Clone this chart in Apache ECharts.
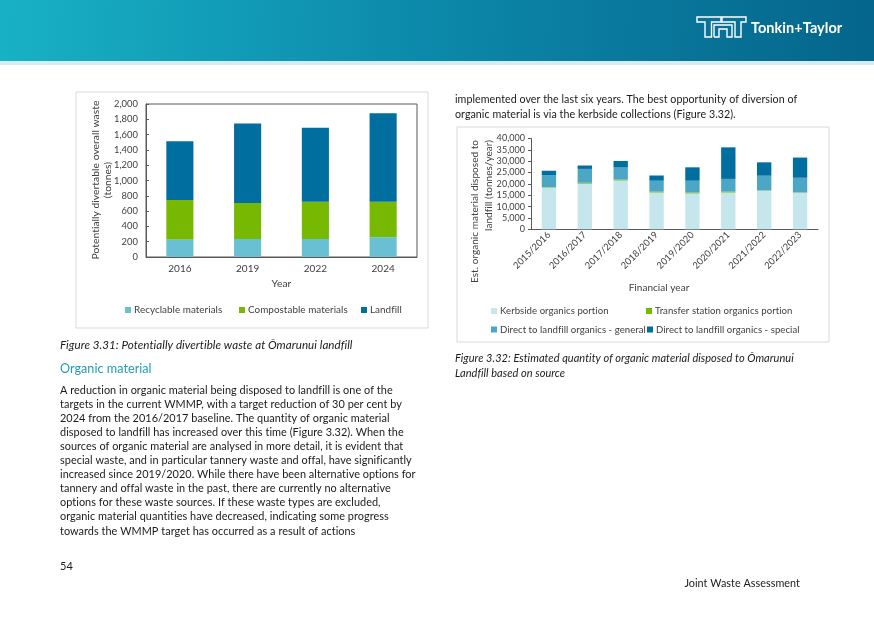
<!DOCTYPE html>
<html>
<head>
<meta charset="utf-8">
<script src="https://cdn.jsdelivr.net/npm/echarts@6/dist/echarts.min.js"></script>
<style>
html,body{margin:0;padding:0;background:#fff;}
#c{width:874px;height:618px;}
</style>
</head>
<body>
<div id="c"></div>
<script>
// ---------- Data: Figure 3.31 ----------
const years1 = ['2016', '2019', '2022', '2024'];
const recyclable = [230, 235, 235, 260];
const compostable = [515, 470, 488, 463];
const landfill = [767, 1040, 967, 1155];

// ---------- Data: Figure 3.32 ----------
const years2 = ['2015/2016', '2016/2017', '2017/2018', '2018/2019', '2019/2020', '2020/2021', '2021/2022', '2022/2023'];
const kerbside = [18400, 20100, 21500, 16200, 15800, 16200, 17000, 16100];
const transferStation = [200, 400, 400, 400, 400, 400, 150, 150];
const directGeneral = [5300, 6100, 5300, 4800, 5200, 5600, 6450, 6450];
const directSpecial = [1900, 1500, 2900, 2300, 5900, 13900, 5900, 8900];

// ---------- Text ----------
const bodyLines = [
  'A reduction in organic material being disposed to landfill is one of the',
  'targets in the current WMMP, with a target reduction of 30 per cent by',
  '2024 from the 2016/2017 baseline. The quantity of organic material',
  'disposed to landfill has increased over this time (Figure 3.32). When the',
  'sources of organic material are analysed in more detail, it is evident that',
  'special waste, and in particular tannery waste and offal, have significantly',
  'increased since 2019/2020. While there have been alternative options for',
  'tannery and offal waste in the past, there are currently no alternative',
  'options for these waste sources. If these waste types are excluded,',
  'organic material quantities have decreased, indicating some progress',
  'towards the WMMP target has occurred as a result of actions'
];
const rightTopLines = [
  'implemented over the last six years. The best opportunity of diversion of',
  'organic material is via the kerbside collections (Figure 3.32).'
];
const cap2Lines = [
  'Figure 3.32: Estimated quantity of organic material disposed to \u014Cmarunui',
  'Landfill based on source'
];

// avoid Lato's discretionary "ti" style ligatures (tiny letter spacing disables them)
(function () {
  const P = CanvasRenderingContext2D.prototype;
  const of = P.fillText;
  P.fillText = function () {
    if ('letterSpacing' in this) { this.letterSpacing = '0.04px'; }
    return of.apply(this, arguments);
  };
})();

const FF = 'Lato, "Open Sans", sans-serif';
const AX = '#404040';
const LINE = '#595959';

function txt(x, y, s, o) {
  o = o || {};
  return {
    type: 'text', x: x, y: y, rotation: o.rot || 0, silent: true,
    style: {
      text: s, fill: o.fill || '#1a1a1a',
      font: (o.italic ? 'italic ' : '') + (o.bold ? 'bold ' : '') + (o.size || 11) + 'px ' + FF,
      align: o.align || 'left', verticalAlign: 'middle'
    }
  };
}

const graphics = [];
// header band
graphics.push({
  type: 'rect', shape: {x: 0, y: 0, width: 874, height: 61}, silent: true,
  style: {fill: {type: 'linear', x: 0, y: 0, x2: 1, y2: 0.4, colorStops: [
    {offset: 0, color: '#18B1C5'}, {offset: 0.5, color: '#0C88A9'}, {offset: 1, color: '#05658C'}]}}
});
graphics.push({type: 'rect', shape: {x: 0, y: 61, width: 874, height: 4}, silent: true, style: {fill: '#D6ECF1'}});
// logo mark
const logoStroke = {stroke: '#fff', lineWidth: 1.4, fill: 'none'};
graphics.push({type: 'polygon', silent: true, shape: {points: [[697,17],[721,17],[721,22],[711.5,22],[711.5,37],[705,37],[705,22],[697,22]]}, style: logoStroke});
graphics.push({type: 'polygon', silent: true, shape: {points: [[722,17],[746,17],[746,22],[741,22],[741,37],[735,37],[735,22],[722,22]]}, style: logoStroke});
graphics.push({type: 'polyline', silent: true, shape: {points: [[714,37],[714,25],[732,25],[732,37],[727,37],[727,29],[719,29],[719,37],[714,37]]}, style: logoStroke});
graphics.push(txt(751, 28, 'Tonkin+Taylor', {fill: '#fff', bold: true, size: 14.5}));

// chart frames
graphics.push({type: 'rect', silent: true, shape: {x: 76, y: 92, width: 352, height: 236}, style: {fill: 'none', stroke: '#D9D9D9', lineWidth: 1}});
graphics.push({type: 'rect', silent: true, shape: {x: 457, y: 127, width: 372, height: 215}, style: {fill: 'none', stroke: '#D9D9D9', lineWidth: 1}});

// axis titles
graphics.push(txt(96, 180, 'Potentially divertable overall waste', {rot: Math.PI / 2, align: 'center', fill: AX, size: 10.3}));
graphics.push(txt(108, 180, '(tonnes)', {rot: Math.PI / 2, align: 'center', fill: AX, size: 10.3}));
graphics.push(txt(475, 140, 'Est. organic material disposed to', {rot: Math.PI / 2, align: 'right', fill: AX, size: 10}));
graphics.push(txt(488.5, 140, 'landfill (tonnes/year)', {rot: Math.PI / 2, align: 'right', fill: AX, size: 10}));
graphics.push(txt(281.5, 284, 'Year', {align: 'center', fill: AX, size: 10.3}));
graphics.push(txt(659, 288, 'Financial year', {align: 'center', fill: AX, size: 10}));

// page text
graphics.push(txt(60, 345, 'Figure 3.31: Potentially divertible waste at \u014Cmarunui landfill', {italic: true, size: 11.6}));
graphics.push(txt(60, 369, 'Organic material', {fill: '#1F9DB6', size: 12.6}));
bodyLines.forEach(function (l, i) { graphics.push(txt(60, 390 + i * 14.1, l, {size: 10.9})); });
rightTopLines.forEach(function (l, i) { graphics.push(txt(455, 100 + i * 15, l, {size: 10.7})); });
cap2Lines.forEach(function (l, i) { graphics.push(txt(455, 358 + i * 15, l, {italic: true, size: 11})); });
graphics.push(txt(60, 566, '54', {size: 11}));
graphics.push(txt(800, 584, 'Joint Waste Assessment', {size: 10.8, align: 'right'}));

function legendAt(name, left, top, fs) {
  return {
    data: [name], left: left, top: top, padding: 0, itemWidth: 6, itemHeight: 6,
    icon: 'rect', selectedMode: false,
    textStyle: {color: AX, fontFamily: FF, fontSize: fs, padding: [0, 0, 0, -2]}
  };
}

const fmt = function (v) { return v.toLocaleString('en-US'); };

const option = {
  animation: false,
  backgroundColor: '#fff',
  graphic: graphics,
  legend: [
    legendAt('Recyclable materials', 125, 305, 9.9),
    legendAt('Compostable materials', 239, 305, 9.9),
    legendAt('Landfill', 361, 305, 9.9),
    legendAt('Kerbside organics portion', 491, 306, 9.6),
    legendAt('Transfer station organics portion', 646, 306, 9.6),
    legendAt('Direct to landfill organics - general', 491, 324.5, 9.6),
    legendAt('Direct to landfill organics - special', 647, 324.5, 9.6)
  ],
  grid: [
    {left: 146, top: 104, width: 271, height: 153, show: true, borderColor: LINE, borderWidth: 1, containLabel: false},
    {left: 531, top: 138.5, width: 287, height: 90.8, containLabel: false}
  ],
  xAxis: [
    {type: 'category', gridIndex: 0, data: years1,
     axisLine: {lineStyle: {color: LINE}}, axisTick: {show: false},
     axisLabel: {color: AX, fontFamily: FF, fontSize: 10, margin: 7}},
    {type: 'category', gridIndex: 1, data: years2,
     axisLine: {lineStyle: {color: LINE}}, axisTick: {show: false},
     axisLabel: {color: AX, fontFamily: FF, fontSize: 9.4, rotate: 45, margin: 4, interval: 0}}
  ],
  yAxis: [
    {type: 'value', gridIndex: 0, min: 0, max: 2000, interval: 200,
     axisLine: {show: true, lineStyle: {color: LINE}},
     axisTick: {show: true, inside: true, length: 3, lineStyle: {color: LINE}},
     splitLine: {show: false},
     axisLabel: {color: AX, fontFamily: FF, fontSize: 9.4, margin: 8, formatter: fmt}},
    {type: 'value', gridIndex: 1, min: 0, max: 40000, interval: 5000,
     axisLine: {show: true, lineStyle: {color: LINE}},
     axisTick: {show: true, length: 3, lineStyle: {color: LINE}},
     splitLine: {show: false},
     axisLabel: {color: AX, fontFamily: FF, fontSize: 9, margin: 6, formatter: fmt}}
  ],
  series: [
    {name: 'Recyclable materials', type: 'bar', stack: 'a', xAxisIndex: 0, yAxisIndex: 0, barWidth: '40%', data: recyclable, itemStyle: {color: '#69C0D3'}},
    {name: 'Compostable materials', type: 'bar', stack: 'a', xAxisIndex: 0, yAxisIndex: 0, barWidth: '40%', data: compostable, itemStyle: {color: '#77B800'}},
    {name: 'Landfill', type: 'bar', stack: 'a', xAxisIndex: 0, yAxisIndex: 0, barWidth: '40%', data: landfill, itemStyle: {color: '#006E9F'}},
    {name: 'Kerbside organics portion', type: 'bar', stack: 'b', xAxisIndex: 1, yAxisIndex: 1, barWidth: '40%', data: kerbside, itemStyle: {color: '#C4E6EC'}},
    {name: 'Transfer station organics portion', type: 'bar', stack: 'b', xAxisIndex: 1, yAxisIndex: 1, barWidth: '40%', data: transferStation, itemStyle: {color: '#77B800'}},
    {name: 'Direct to landfill organics - general', type: 'bar', stack: 'b', xAxisIndex: 1, yAxisIndex: 1, barWidth: '40%', data: directGeneral, itemStyle: {color: '#4CA6C6'}},
    {name: 'Direct to landfill organics - special', type: 'bar', stack: 'b', xAxisIndex: 1, yAxisIndex: 1, barWidth: '40%', data: directSpecial, itemStyle: {color: '#006E9F'}}
  ]
};

const chart = echarts.init(document.getElementById('c'), null, {renderer: 'canvas'});
chart.setOption(option);
</script>
</body>
</html>
